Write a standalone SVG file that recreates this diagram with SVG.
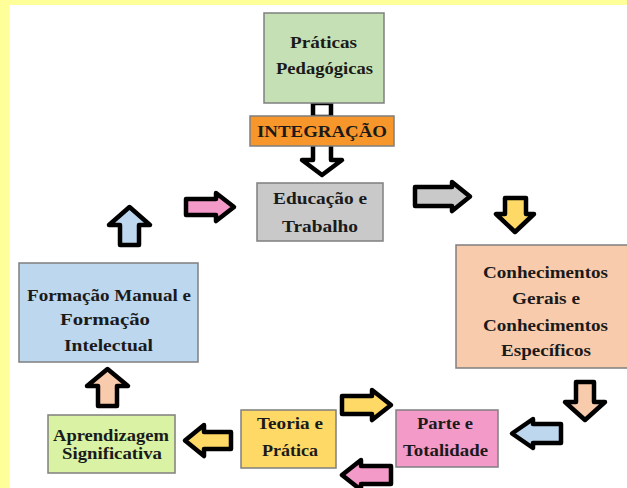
<svg xmlns="http://www.w3.org/2000/svg" width="627" height="488" viewBox="0 0 627 488">
<style>
.box{stroke:#7f7f7f;stroke-width:1.5}
.t{font-family:"Liberation Serif","Times New Roman",serif;font-weight:bold;font-size:16px;fill:#1a1a1a;text-anchor:middle}
.a{stroke:#000;stroke-width:4.5;stroke-linejoin:round}
</style>
<rect x="0" y="0" width="627" height="5" fill="#ffff99"/>
<rect x="0" y="0" width="9.5" height="488" fill="#ffff99"/>
<g id="connectors">
<rect class="a" x="313" y="103" width="18" height="14" fill="#fff"/>
<path class="a" fill="#fff" d="M313,146 V160 H302 L322,175 L342,160 H331 V146"/>
<path class="a" fill="#f49ac9" d="M186,199 H216 V193 L234,207 L216,221 V215 H186 Z"/>
<path class="a" fill="#c9c9c9" d="M415,187 H452 V182 L470,196.5 L452,211 V206 H415 Z"/>
<path class="a" fill="#ffd966" d="M505,198 H526 V214 H534 L515,232 L496,214 H505 Z"/>
<path class="a" fill="#f8cbad" d="M576,382 H594 V402 H605 L585,420 L565,402 H576 Z"/>
<path class="a" fill="#bdd7ee" d="M561,424 H533 V419 L512,433.5 L533,448 V443 H561 Z"/>
<path class="a" fill="#ffd966" d="M342,396 H372 V390 L391,405 L372,420 V414 H342 Z"/>
<path class="a" fill="#f49ac9" d="M391,466 H361 V460 L342,475 L361,490 V484 H391 Z"/>
<path class="a" fill="#ffd966" d="M231,432 H204 V425 L185,440.5 L204,456 V449 H231 Z"/>
<path class="a" fill="#f8cbad" d="M98,406 V386 H87 L107.5,369 L128,386 H117 V406 Z"/>
<path class="a" fill="#bdd7ee" d="M120,245 V225 H109 L129.5,207 L150,225 H139 V245 Z"/>
</g>
<g id="praticas">
<rect class="box" x="264" y="13" width="120" height="90" fill="#c5e0b4"/>
<text class="t" x="323.5" y="48" textLength="67" lengthAdjust="spacingAndGlyphs">Práticas</text>
<text class="t" x="324.5" y="74" textLength="97" lengthAdjust="spacingAndGlyphs">Pedagógicas</text>
</g>
<g id="integracao">
<rect class="box" x="250" y="116" width="144" height="30" fill="#f7962a"/>
<text class="t" x="322" y="137" textLength="130" lengthAdjust="spacingAndGlyphs">INTEGRAÇÃO</text>
</g>
<g id="educacao">
<rect class="box" x="257" y="183" width="126" height="58" fill="#c9c9c9"/>
<text class="t" x="320" y="204" textLength="94" lengthAdjust="spacingAndGlyphs">Educação e</text>
<text class="t" x="320" y="232" textLength="76" lengthAdjust="spacingAndGlyphs">Trabalho</text>
</g>
<g id="conhecimentos">
<rect class="box" x="456" y="245" width="175" height="123" fill="#f8cbad"/>
<text class="t" x="545.5" y="278" textLength="125" lengthAdjust="spacingAndGlyphs">Conhecimentos</text>
<text class="t" x="546" y="304" textLength="68" lengthAdjust="spacingAndGlyphs">Gerais e</text>
<text class="t" x="545.5" y="331" textLength="125" lengthAdjust="spacingAndGlyphs">Conhecimentos</text>
<text class="t" x="546" y="356" textLength="90" lengthAdjust="spacingAndGlyphs">Específicos</text>
</g>
<g id="parte">
<rect class="box" x="396" y="410" width="102" height="57" fill="#f49ac9"/>
<text class="t" x="445" y="429" textLength="56" lengthAdjust="spacingAndGlyphs">Parte e</text>
<text class="t" x="445.5" y="456" textLength="85" lengthAdjust="spacingAndGlyphs">Totalidade</text>
</g>
<g id="teoria">
<rect class="box" x="241" y="410" width="95" height="58" fill="#ffd966"/>
<text class="t" x="290" y="429" textLength="66" lengthAdjust="spacingAndGlyphs">Teoria e</text>
<text class="t" x="290" y="456" textLength="56" lengthAdjust="spacingAndGlyphs">Prática</text>
</g>
<g id="aprendizagem">
<rect class="box" x="48" y="415" width="127" height="58" fill="#d9f2a3"/>
<text class="t" x="111" y="441" style="font-size:17px" textLength="116" lengthAdjust="spacingAndGlyphs">Aprendizagem</text>
<text class="t" x="112" y="459" style="font-size:17px" textLength="100" lengthAdjust="spacingAndGlyphs">Significativa</text>
</g>
<g id="formacao">
<rect class="box" x="19" y="263" width="179" height="99" fill="#bdd7ee"/>
<text class="t" x="109" y="301" textLength="164" lengthAdjust="spacingAndGlyphs">Formação Manual e</text>
<text class="t" x="105" y="325" textLength="90" lengthAdjust="spacingAndGlyphs">Formação</text>
<text class="t" x="108.5" y="351" textLength="89" lengthAdjust="spacingAndGlyphs">Intelectual</text>
</g>
</svg>
